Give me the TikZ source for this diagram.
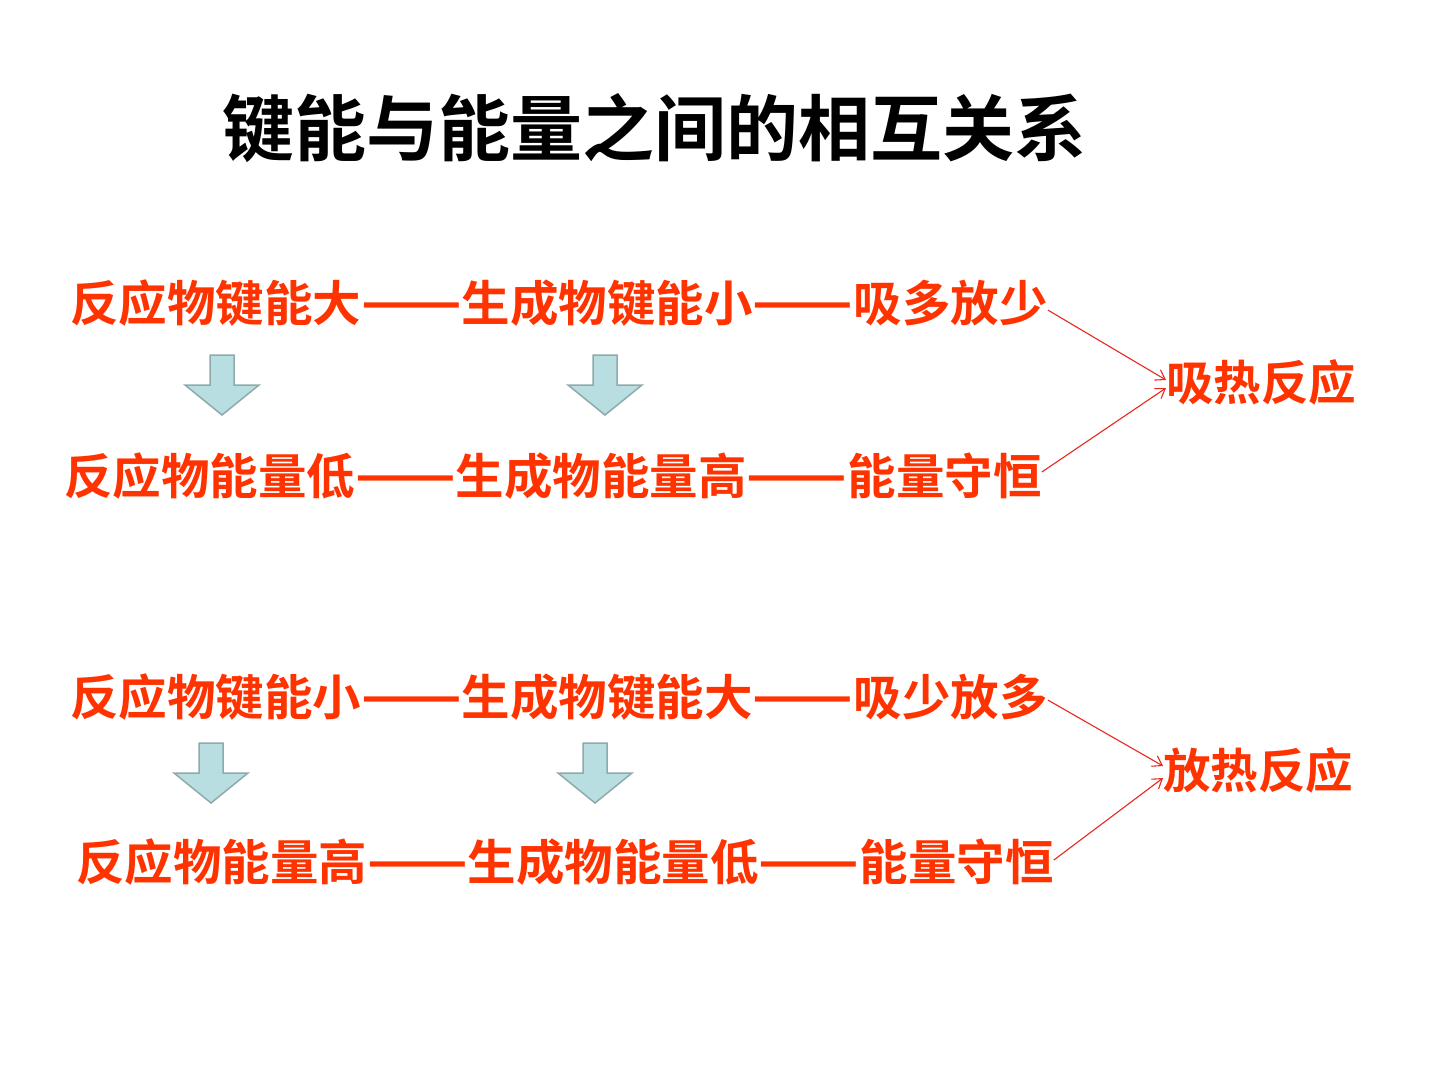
\documentclass[tikz,border=0pt]{standalone}
\usepackage{fontspec}
\usepackage{graphicx}
\newfontfamily\cjk{Noto Sans CJK SC}[BoldFont={Noto Sans CJK SC Bold}]
\usetikzlibrary{arrows.meta}
\definecolor{txtred}{HTML}{FF3300}
\definecolor{lnred}{HTML}{E8281E}
\definecolor{arrfill}{HTML}{B9DEE1}
\definecolor{arrdraw}{HTML}{8FAAAA}
\newcommand\dashpair{\scalebox{1.22}[1.15]{——}}
\tikzset{
  rowtext/.style={anchor=west,inner sep=0pt,text=txtred,font=\cjk\bfseries\fontsize{48.5}{58}\selectfont},
  restext/.style={anchor=west,inner sep=0pt,text=txtred,font=\cjk\bfseries\fontsize{47.5}{58}\selectfont},
  titletext/.style={anchor=west,inner sep=0pt,text=black,font=\cjk\bfseries\fontsize{72}{86}\selectfont},
  conn/.style={draw=lnred,line width=1.1pt,-{Straight Barb[length=9pt,width=12pt]}},
  pics/downarrow/.style={code={
    \draw[fill=arrfill,draw=arrdraw,line width=1.5pt,line join=miter]
      (-12,-30) -- (12,-30) -- (12,0) -- (37,0) -- (0,30) -- (-37,0) -- (-12,0) -- cycle;
  }}
}
\begin{document}
\begin{tikzpicture}[x=1pt,y=-1pt]
\useasboundingbox[fill=white] (0,0) rectangle (1440,1080);
\node[titletext] (title) at (222,128) {键能与能量之间的相互关系};

\node[rowtext] (r1) at (70,303) {反应物键能大\dashpair 生成物键能小\dashpair 吸多放少};
\node[rowtext] (r2) at (64,476) {反应物能量低\dashpair 生成物能量高\dashpair 能量守恒};
\node[restext] (t1) at (1166,382) {吸热反应};
\pic at (222,385) {downarrow};
\pic at (605,385) {downarrow};
\draw[conn] ([yshift=-7pt]r1.east) -- ([yshift=2pt]t1.west);
\draw[conn] ([yshift=4pt]r2.east) -- ([yshift=-6pt]t1.west);

\node[rowtext] (r3) at (70,697) {反应物键能小\dashpair 生成物键能大\dashpair 吸少放多};
\node[rowtext] (r4) at (76,862) {反应物能量高\dashpair 生成物能量低\dashpair 能量守恒};
\node[restext] (t2) at (1163,770) {放热反应};
\pic at (211,773) {downarrow};
\pic at (595,773) {downarrow};
\draw[conn] ([yshift=-3pt]r3.east) -- ([yshift=4pt]t2.west);
\draw[conn] ([yshift=2pt]r4.east) -- ([yshift=-8pt]t2.west);
\end{tikzpicture}
\end{document}
